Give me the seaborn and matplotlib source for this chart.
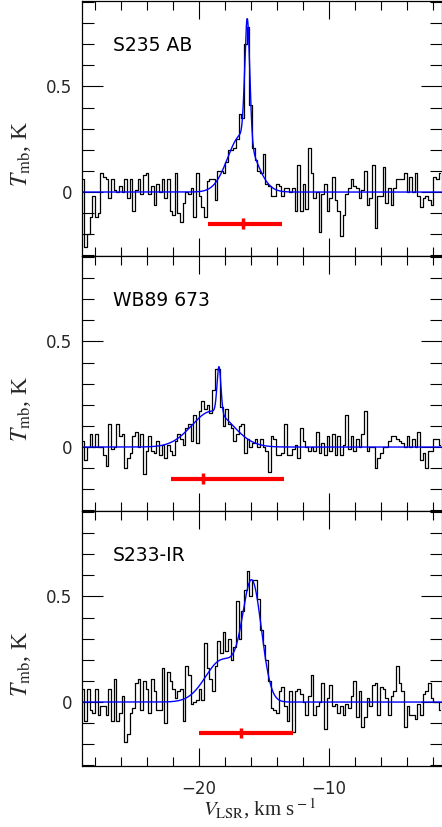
import numpy as np
import pandas as pd
import matplotlib
matplotlib.use("Agg")
import matplotlib.pyplot as plt
from matplotlib.ticker import MultipleLocator, FixedLocator, FixedFormatter
import seaborn as sns

# ---------------- data ----------------
sources = ["S235 AB", "WB89 673", "S233-IR"]

# channel grid (km/s): first channel centre and channel width
v_first = -28.95
v_step = 0.205

spec_s235 = [0.06, -0.26, -0.20, -0.12, -0.02, -0.12, -0.10, 0.09, 0.07, 0.06, -0.03, 0.06, 0.01, 0.00,
             0.03, 0.00, 0.06, -0.03, 0.06, -0.09, 0.01, 0.06, -0.01, 0.08, 0.09, -0.01, 0.03, -0.06,
             0.04, 0.00, 0.06, -0.03, 0.06, -0.09, -0.11, 0.09, -0.10, -0.14, -0.05, 0.00, -0.01, 0.02,
             -0.12, 0.09, -0.02, -0.07, -0.12, 0.05, 0.06, 0.06, -0.04, 0.10, 0.10, 0.09, 0.14, 0.20,
             0.20, 0.21, 0.25, 0.37, 0.35, 0.70, 0.78, 0.41, 0.21, 0.15, 0.10, 0.09, 0.18, 0.04, 0.03,
             -0.02, -0.02, 0.04, 0.03, -0.02, 0.02, 0.02, 0.00, 0.02, -0.09, 0.13, -0.09, 0.04, -0.08,
             0.21, 0.09, -0.03, 0.00, -0.19, -0.01, 0.04, -0.09, -0.03, 0.07, -0.04, -0.09, -0.21, -0.11,
             -0.01, 0.02, 0.06, 0.03, 0.02, -0.03, 0.01, 0.10, -0.06, -0.03, 0.13, -0.17, -0.02, -0.02,
             0.12, -0.05, 0.02, -0.06, 0.02, 0.06, 0.06, 0.06, 0.09, 0.00, 0.07, 0.00, 0.09, -0.02,
             -0.07, -0.03, -0.02, -0.04, -0.06, 0.07, 0.06, 0.09]

spec_wb89 = [0.03, -0.06, 0.00, 0.06, 0.00, 0.06, 0.00, 0.00, -0.04, -0.09, 0.11, -0.01, 0.00, 0.11,
             0.05, 0.06, -0.10, -0.05, -0.03, 0.05, 0.07, 0.00, 0.06, -0.13, -0.02, 0.05, -0.02, -0.03,
             0.03, -0.04, 0.01, -0.05, 0.01, -0.02, -0.04, 0.03, 0.06, 0.04, 0.01, 0.09, 0.11, 0.03,
             0.15, 0.02, 0.17, 0.22, 0.18, 0.20, 0.16, 0.27, 0.37, 0.37, 0.19, 0.10, 0.18, 0.11, 0.09,
             0.03, 0.06, 0.10, 0.11, -0.03, 0.04, 0.00, 0.02, 0.04, 0.00, 0.04, 0.00, -0.02, -0.12,
             0.05, 0.04, -0.04, -0.04, -0.03, 0.11, -0.04, -0.04, -0.01, 0.01, -0.05, 0.09, 0.03, 0.00,
             -0.02, 0.00, -0.02, 0.07, -0.03, 0.02, -0.04, 0.05, -0.02, 0.06, -0.04, 0.05, -0.04, 0.01,
             0.15, -0.01, 0.05, -0.02, 0.04, 0.00, 0.06, 0.17, -0.02, 0.00, 0.00, -0.10, -0.05, -0.03,
             0.00, 0.00, 0.03, 0.05, 0.05, 0.04, 0.03, 0.02, 0.00, 0.05, 0.00, 0.04, 0.00, 0.07, -0.06,
             -0.03, -0.10, -0.02, -0.02, 0.04, 0.04, 0.01]

spec_s233 = [0.06, -0.09, 0.06, -0.04, -0.05, 0.06, -0.06, -0.02, -0.02, -0.06, 0.06, -0.09, 0.11, -0.09,
             -0.05, 0.03, -0.19, -0.15, -0.05, -0.03, 0.09, 0.11, -0.04, 0.10, 0.06, -0.05, 0.11, 0.05,
             -0.04, -0.04, 0.16, -0.10, 0.14, 0.10, 0.06, 0.02, 0.05, 0.06, -0.09, 0.17, 0.13, -0.01,
             0.00, 0.01, 0.06, 0.01, 0.28, 0.16, 0.11, 0.05, 0.17, 0.29, 0.23, 0.33, 0.24, 0.30, 0.20,
             0.26, 0.48, 0.30, 0.43, 0.53, 0.62, 0.50, 0.58, 0.58, 0.49, 0.34, 0.27, 0.20, 0.10, -0.03,
             -0.04, -0.05, 0.05, 0.07, -0.02, -0.09, 0.05, -0.14, 0.05, 0.06, 0.04, 0.00, -0.06, 0.03,
             0.13, -0.06, -0.02, 0.00, 0.09, -0.13, 0.02, 0.08, -0.02, -0.01, -0.05, -0.02, -0.06, -0.01,
             -0.03, 0.03, 0.10, -0.07, 0.05, -0.12, -0.07, 0.02, -0.02, 0.08, 0.09, -0.06, 0.07, 0.06,
             0.02, -0.06, 0.03, 0.05, 0.17, 0.09, 0.05, -0.12, -0.02, -0.06, -0.06, -0.08, -0.01, -0.06,
             0.04, 0.05, 0.09, 0.02, 0.00, 0.00, -0.04]

spectra = [spec_s235, spec_wb89, spec_s233]

# two-component Gaussian fits (amplitude K, centre km/s, sigma km/s)
fit_amp = [[0.575, 0.27], [0.22, 0.17], [0.535, 0.20]]
fit_cen = [[-16.30, -16.75], [-18.48, -19.00], [-15.92, -18.20]]
fit_sig = [[0.19, 1.05], [0.15, 1.57], [0.72, 1.30]]

# red velocity-range bars: low, high, marked centre, level (K)
bar_lo = [-19.3, -22.2, -20.0]
bar_hi = [-13.6, -13.46, -12.77]
bar_mid = [-16.6, -19.74, -16.82]
bar_y = [-0.15, -0.15, -0.147]

xtick_vals = [-20, -10]
xtick_labels = ["\u221220", "\u221210"]
ytick_vals = [0, 0.5]
ytick_labels = ["0", "0.5"]

# ---------------- style ----------------
sns.set_style("ticks")
plt.rcParams["font.family"] = ["DejaVu Sans"]
plt.rcParams["mathtext.fontset"] = "stix"

fig = plt.figure(figsize=(4.42, 8.27), dpi=100)
left = 82 / 442
width = 359.5 / 442
h = 255 / 827
bottom0 = 1 - 766 / 827
xlim = (-29.02, -1.36)
ylim = (-0.303, 0.905)

for i in range(3):
    ax = fig.add_axes([left, bottom0 + (2 - i) * h, width, h])
    spec = np.array(spectra[i])
    v = v_first + v_step * np.arange(len(spec))
    df = pd.DataFrame({"v": v, "T": spec})
    sns.lineplot(data=df, x="v", y="T", ax=ax, color="black", lw=0.9,
                 drawstyle="steps-mid", estimator=None, sort=False)

    vf = np.linspace(xlim[0], xlim[1], 2000)
    model = np.zeros_like(vf)
    for a, c, s in zip(fit_amp[i], fit_cen[i], fit_sig[i]):
        model += a * np.exp(-0.5 * ((vf - c) / s) ** 2)
    dff = pd.DataFrame({"v": vf, "T": model})
    sns.lineplot(data=dff, x="v", y="T", ax=ax, color="#0000ff", lw=1.0,
                 estimator=None, sort=False)

    ax.plot([bar_lo[i], bar_hi[i]], [bar_y[i], bar_y[i]], color="#ff0000",
            lw=3.0, solid_capstyle="butt")
    ax.plot([bar_mid[i], bar_mid[i]], [bar_y[i] - 0.025, bar_y[i] + 0.025],
            color="#ff0000", lw=2.5, solid_capstyle="butt")

    ax.set_xlim(*xlim)
    ax.set_ylim(*ylim)

    ax.xaxis.set_major_locator(FixedLocator(xtick_vals))
    ax.xaxis.set_minor_locator(MultipleLocator(2))
    ax.yaxis.set_major_locator(FixedLocator(ytick_vals))
    ax.yaxis.set_major_formatter(FixedFormatter(ytick_labels))
    ax.yaxis.set_minor_locator(MultipleLocator(0.1))

    ax.tick_params(axis="both", which="both", direction="in", top=True, right=True,
                   width=0.8, color="black")
    ax.tick_params(axis="x", which="major", length=13)
    ax.tick_params(axis="x", which="minor", length=6.5)
    ax.tick_params(axis="y", which="major", length=15, labelsize=12, pad=7)
    ax.tick_params(axis="y", which="minor", length=8.5)

    if i == 2:
        ax.xaxis.set_major_formatter(FixedFormatter(xtick_labels))
        ax.tick_params(axis="x", which="major", labelsize=12, pad=10)
        ax.set_xlabel(r"$V_{\rm LSR}$, km s$^{\rm -1}$", fontsize=15,
                      family="Liberation Serif")
        ax.xaxis.set_label_coords(0.495, -0.118)
    else:
        ax.set_xticklabels([])
        ax.set_xlabel("")

    ax.set_ylabel(r"$T_{\rm mb}$, K", fontsize=17, family="Liberation Serif")
    ax.yaxis.set_label_coords(-0.135, 0.40)

    for sp in ax.spines.values():
        sp.set_linewidth(0.9)
        sp.set_color("black")

    ax.text(0.086, 0.825, sources[i], transform=ax.transAxes, fontsize=13.5,
            ha="left", va="center", color="black")

fig.savefig("out.png", dpi=100)
